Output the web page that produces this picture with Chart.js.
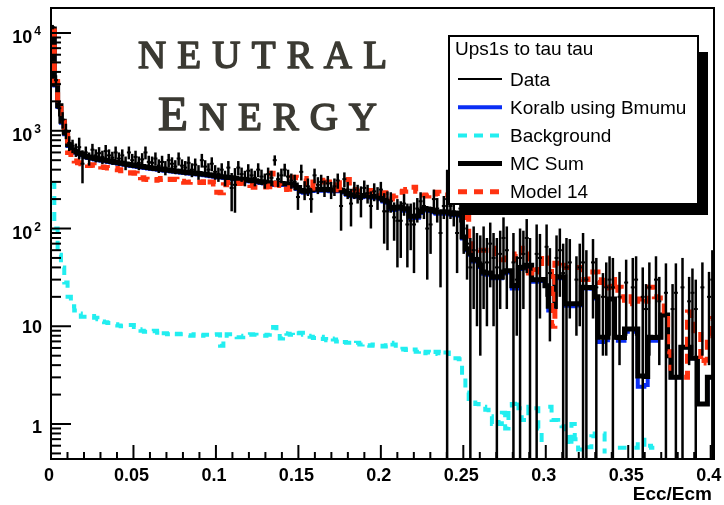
<!DOCTYPE html>
<html>
<head>
<meta charset="utf-8">
<script src="https://cdn.jsdelivr.net/npm/chart.js@4.4.1/dist/chart.umd.min.js"></script>
<style>
  html, body { margin: 0; padding: 0; background: #fff; }
  canvas { display: block; }
</style>
</head>
<body>
<canvas id="chart" width="724" height="505"></canvas>
<script>
// Ecc/Ecm histograms, 200 bins
const X_MAX = 0.402;
const N_BINS = 200;
const BIN_W = X_MAX / N_BINS;
const Y_MIN = 0.4385;
const Y_MAX = 18030;

const xTickLabels = ['0', '0.05', '0.1', '0.15', '0.2', '0.25', '0.3', '0.35', '0.4'];
const yDecades = [0, 1, 2, 3, 4];
const legendTitle = 'Ups1s to tau tau';
const legendLabels = ['Data', 'Koralb using Bmumu', 'Background', 'MC Sum', 'Model 14'];

const koralb = [
  10700, 2900, 1750, 1210, 920, 700, 624, 595, 576, 562,
  537, 527, 517, 508, 500, 494, 487, 479, 473, 467,
  460, 454, 448, 442, 437, 432, 427, 421, 416, 411,
  407, 403, 399, 395, 391, 388, 384, 380, 376, 372,
  369, 366, 363, 360, 357, 354, 350, 346, 342, 338,
  334, 333, 328, 325, 322, 319, 314, 310, 308, 305,
  302, 299, 296, 292, 288, 285, 281, 278, 284, 282,
  279, 277, 274, 270, 254, 236, 232, 234, 242, 244,
  244, 243, 243, 243, 241, 241, 243, 241, 233, 221,
  215, 213, 211, 209, 211, 214, 208, 207, 207, 199,
  189, 184, 158, 155, 159, 160, 152, 154, 128, 128,
  129, 144, 153, 153, 151, 147, 142, 142, 143, 142,
  139, 137, 139, 135, 79, 60, 54, 46, 46, 40.5,
  34.5, 33.6, 33.8, 31, 31, 31, 34.7, 36, 35.5, 24.4,
  24.3, 38.5, 39, 41, 40.5, 28.5, 28.5, 29, 29.4, 26,
  14.5, 15, 31, 31, 31, 16.2, 16.4, 16, 16.3, 16.4,
  24.4, 24.4, 24.4, 24.2, 19.2, 6.9, 6.9, 7.2, 19, 19,
  7.7, 7.1, 7.1, 8.8, 9.4, 9.4, 8.8, 2.4, 2.4, 2.5,
  7.1, 7.1, 7.1, 7.7, 13, 13, 5, 3, 3, 3,
  6.1, 6.1, 6.1, 4.7, 4.7, 1.6, 1.6, 1.6, 3.0, 3.0,
];

const background = [
  290, 100, 54, 40, 28, 20, 16, 14.5, 13.5, 12.5,
  12.5, 12.8, 12.7, 12.2, 11.8, 11.2, 11, 10.8, 10.5, 10.5,
  10.2, 10, 10, 10.3, 10.3, 9.8, 9.3, 9, 8.8, 8.7,
  8.9, 9.0, 8.6, 9.0, 8.5, 8.3, 8.1, 8.3, 8.4, 8.3,
  8.2, 8.1, 8.0, 8.3, 8.3, 8.0, 8.2, 8.2, 8.3, 8.2,
  8.3, 6.3, 8.0, 8.3, 8.3, 7.9, 7.7, 7.7, 8.0, 8.2,
  8.3, 8.2, 8.0, 8.0, 8.0, 8.2, 8.6, 9.8, 8.6, 7.5,
  8.5, 8.4, 8.2, 8.0, 8.5, 8.6, 8.2, 8.0, 7.8, 7.6,
  7.6, 7.8, 7.4, 7.2, 7.5, 7.3, 7.0, 7.2, 6.9, 6.8,
  6.8, 6.6, 6.8, 6.5, 6.6, 6.4, 6.3, 6.5, 6.4, 6.3,
  6.2, 6.4, 6.8, 6.5, 6.0, 5.8, 5.9, 5.7, 5.6, 5.8,
  5.5, 5.6, 5.3, 5.5, 5.4, 5.2, 5.5, 5.3, 5.1, 5.4,
  5.2, 5.0, 4.7, 4.6, 3.0, 2.1, 1.8, 1.8, 1.6, 1.5,
  1.5, 1.4, 1.2, 1.0, 1.05, 1.0, 1.3, 0.9, 1.55, 1.6,
  1.75, 1.45, 1.1, 1.1, 1.5, 1.45, 1.45, 0.9, 0.6, 0,
  1.5, 1.1, 1.1, 1.05, 0.95, 0.8, 0.6, 1.0, 0.7, 0.55,
  0.6, 0.58, 0.58, 0.75, 0.8, 0.8, 0.8, 0.5, 0, 0,
  0, 0.57, 0.57, 0.6, 0, 0, 0.57, 0.69, 0.69, 0.57,
  0.6, 0.57, 0.57, 0, 0, 0, 0, 0, 0, 0,
  0, 0, 0, 0, 0, 0, 0, 0, 0, 0,
];

const model14 = [
  10500, 3200, 1900, 1350, 900, 600, 520, 490, 470, 460,
  455, 440, 450, 445, 435, 425, 420, 415, 415, 410,
  400, 390, 375, 370, 372, 368, 360, 330, 320, 318,
  315, 312, 318, 325, 330, 320, 318, 320, 312, 305,
  298, 298, 300, 298, 300, 296, 320, 318, 300, 285,
  235, 232, 280, 295, 300, 290, 288, 290, 292, 290,
  275, 265, 265, 262, 266, 268, 368, 290, 280, 275,
  250, 252, 335, 335, 330, 330, 325, 285, 260, 300,
  312, 312, 300, 300, 298, 280, 230, 318, 318, 318,
  260, 250, 242, 235, 235, 235, 245, 240, 238, 230,
  232, 220, 200, 215, 230, 235, 240, 250, 265, 265,
  240, 230, 220, 215, 230, 225, 235, 228, 220, 220,
  222, 250, 245, 235, 235, 130, 70, 60, 62, 60,
  60, 60, 63, 63, 48, 48, 48, 50, 48, 48,
  55, 53, 63, 63, 35, 40, 38, 36, 53, 50,
  44, 10, 44, 40, 42, 40, 40, 40, 40, 40,
  30, 30, 36, 36, 36, 28, 33, 23, 25, 30,
  22, 25, 20, 18.5, 17, 20, 18, 19, 17, 18,
  25, 25, 20, 19.5, 19.5, 12, 5.5, 3.5, 0, 0,
  0, 3, 14, 12, 9, 9, 4.2, 4.5, 8, 12,
];

const dataVals = [
  11500, 3300, 1700, 1300, 1000, 750, 700, 640, 680, 460,
  600, 520, 640, 560, 590, 540, 620, 560, 530, 600,
  520, 560, 470, 600, 500, 540, 470, 510, 600, 480,
  470, 520, 440, 480, 420, 500, 460, 430, 520, 440,
  420, 470, 400, 450, 380, 500, 430, 400, 460, 380,
  360, 400, 330, 420, 260, 280, 420, 360, 330, 390,
  350, 330, 400, 340, 310, 360, 330, 500, 320, 350,
  400, 340, 310, 300, 210, 380, 250, 270, 200, 350,
  280, 300, 260, 290, 250, 270, 310, 170, 320, 250,
  180, 250, 230, 200, 260, 230, 170, 240, 210, 250,
  150, 150, 190, 130, 120, 120, 180, 110, 120, 110,
  160, 190, 170, 100, 110, 200, 160, 90, 170, 200,
  170, 150, 90, 160, 100, 70, 40, 60, 50, 45,
  60, 45, 70, 50, 40, 55, 80, 60, 0, 45,
  30, 50, 55, 80, 40, 0, 55, 50, 0, 65,
  35, 0, 50, 60, 35, 40, 45, 0, 30, 40,
  45, 30, 0, 45, 25, 0, 20, 25, 30, 25,
  0, 20, 0, 28, 0, 25, 30, 0, 20, 15,
  25, 0, 30, 18, 0, 22, 0, 15, 22, 0,
  25, 0, 18, 22, 15, 0, 25, 0, 20, 30,
];

const dataErrs = [
  600, 400, 300, 250, 180, 130, 110, 100, 170, 170,
  90, 80, 95, 85, 90, 85, 95, 85, 80, 90,
  80, 85, 75, 90, 80, 85, 75, 80, 90, 75,
  75, 80, 70, 75, 70, 80, 75, 70, 80, 70,
  70, 75, 65, 70, 65, 80, 70, 65, 75, 65,
  60, 65, 60, 70, 110, 135, 70, 60, 60, 65,
  60, 60, 65, 60, 55, 60, 60, 60, 55, 60,
  60, 60, 55, 55, 55, 70, 55, 55, 55, 60,
  55, 55, 50, 55, 50, 55, 55, 75, 55, 50,
  75, 50, 50, 70, 50, 50, 70, 50, 55, 50,
  80, 90, 45, 55, 80, 70, 45, 70, 60, 75,
  45, 45, 45, 70, 55, 50, 45, 65, 45, 200,
  45, 45, 55, 45, 45, 40, 40, 45, 40, 40,
  45, 35, 45, 40, 40, 40, 50, 45, 0, 45,
  22, 50, 40, 45, 40, 0, 55, 38, 0, 45,
  28, 0, 35, 40, 35, 40, 33, 0, 22, 30,
  45, 30, 0, 33, 25, 0, 15, 20, 22, 25,
  0, 16, 0, 20, 0, 25, 22, 0, 20, 12,
  20, 0, 22, 14, 0, 22, 0, 12, 22, 0,
  25, 0, 14, 17, 15, 0, 20, 0, 16, 30,
];

const mcSum = koralb.map((v, i) => v + background[i]);

const COLORS = {
  blue: '#0a2ef5',
  cyan: '#22eef0',
  red:  '#ff3311',
  title: '#3b3a33',
};

const AXIS_FONT = 'bold 18px "Liberation Sans", Arial, sans-serif';
const SUP_FONT  = 'bold 12px "Liberation Sans", Arial, sans-serif';
const LEG_FONT  = '19px "Liberation Sans", Arial, sans-serif';

// bin contents -> step points on the bin low edges, closed at X_MAX
function histPoints(vals) {
  const pts = vals.map((v, i) => ({ x: i * BIN_W, y: v }));
  pts.push({ x: X_MAX, y: vals[vals.length - 1] });
  return pts;
}

function histDataset(label, vals, color, width, dash) {
  return {
    label,
    data: histPoints(vals),
    borderColor: color,
    borderWidth: width,
    borderDash: dash || [],
    borderJoinStyle: 'miter',
    borderCapStyle: 'butt',
    stepped: true,
    fill: false,
    pointRadius: 0,
  };
}

function drawSpaced(ctx, glyphs, x0, x1, baseline) {
  const widths = glyphs.map(([ch, font]) => { ctx.font = font; return ctx.measureText(ch).width; });
  const gap = (x1 - x0 - widths.reduce((a, b) => a + b, 0)) / (glyphs.length - 1);
  let x = x0;
  glyphs.forEach(([ch, font], i) => {
    ctx.font = font;
    ctx.fillText(ch, x, baseline);
    ctx.strokeText(ch, x, baseline);
    x += widths[i] + gap;
  });
}

const rootStyle = {
  id: 'rootStyle',
  beforeDraw(chart) {
    const ctx = chart.ctx;
    ctx.save();
    ctx.fillStyle = '#fff';
    ctx.fillRect(0, 0, chart.width, chart.height);
    ctx.restore();
  },
  afterDatasetsDraw(chart) {
    const { ctx, chartArea: a, scales: { x, y } } = chart;
    ctx.save();
    ctx.beginPath();
    ctx.rect(a.left, a.top, a.right - a.left, a.bottom - a.top);
    ctx.clip();
    ctx.strokeStyle = '#000';
    ctx.fillStyle = '#000';
    ctx.lineWidth = 2.5;
    dataVals.forEach((v, i) => {
      if (!v) return;
      const px = x.getPixelForValue((i + 0.5) * BIN_W);
      const lo = v - dataErrs[i];
      const yTop = y.getPixelForValue(v + dataErrs[i]);
      const yBot = lo > Y_MIN ? y.getPixelForValue(lo) : a.bottom + 2;
      ctx.beginPath();
      ctx.moveTo(px, yTop);
      ctx.lineTo(px, yBot);
      ctx.stroke();
      ctx.fillRect(px - 2, y.getPixelForValue(v) - 1, 4, 2);
    });
    ctx.restore();
  },
  afterDraw(chart) {
    const { ctx, chartArea: a, scales: { x, y } } = chart;
    ctx.save();

    // frame
    ctx.strokeStyle = '#000';
    ctx.lineWidth = 2;
    ctx.strokeRect(a.left, a.top, a.right - a.left, a.bottom - a.top);

    // x ticks: minor every 0.01, major every 0.05
    for (let k = 0; k <= 40; k++) {
      const px = x.getPixelForValue(k * 0.01);
      const len = k % 5 === 0 ? 14 : 7;
      ctx.beginPath();
      ctx.moveTo(px, a.bottom);
      ctx.lineTo(px, a.bottom - len);
      ctx.stroke();
    }
    ctx.fillStyle = '#000';
    ctx.font = AXIS_FONT;
    ctx.textAlign = 'center';
    ctx.textBaseline = 'alphabetic';
    xTickLabels.forEach((t, k) => {
      ctx.fillText(t, x.getPixelForValue(k * 0.05) - 2, 481);
    });

    // y ticks: decades long, 2..9 short
    for (let n = -1; n <= 4; n++) {
      for (let m = 1; m <= 9; m++) {
        const v = m * Math.pow(10, n);
        if (v < Y_MIN || v > Y_MAX) continue;
        const py = y.getPixelForValue(v);
        ctx.beginPath();
        ctx.moveTo(a.left, py);
        ctx.lineTo(a.left + (m === 1 ? 20 : 10), py);
        ctx.stroke();
      }
    }
    ctx.textAlign = 'right';
    yDecades.forEach(n => {
      const yt = y.getPixelForValue(Math.pow(10, n));
      ctx.font = AXIS_FONT;
      if (n === 0) {
        ctx.fillText('1', 42, yt + 9);
      } else if (n === 1) {
        ctx.fillText('10', 42, yt + 7);
      } else {
        ctx.font = SUP_FONT;
        ctx.fillText(String(n), 41, yt + 2);
        const w = ctx.measureText(String(n)).width;
        ctx.font = AXIS_FONT;
        ctx.fillText('10', 41 - w - 2, yt + 10);
      }
    });

    // axis title
    ctx.font = 'bold 19px "Liberation Sans", Arial, sans-serif';
    ctx.fillText('Ecc/Ecm', 712, 500);

    // legend box with shadow
    ctx.fillStyle = '#000';
    ctx.fillRect(698, 52, 10, 163);
    ctx.fillRect(460, 204, 248, 11);
    ctx.fillStyle = '#fff';
    ctx.fillRect(449, 36, 249, 168);
    ctx.strokeStyle = '#000';
    ctx.lineWidth = 2;
    ctx.strokeRect(449, 36, 249, 168);

    ctx.fillStyle = '#000';
    ctx.font = LEG_FONT;
    ctx.textAlign = 'left';
    ctx.fillText(legendTitle, 455, 55);

    const samples = [
      { color: '#000', width: 2, dash: [] },
      { color: COLORS.blue, width: 4, dash: [] },
      { color: COLORS.cyan, width: 4, dash: [9, 7] },
      { color: '#000', width: 5, dash: [] },
      { color: COLORS.red, width: 5, dash: [9, 7] },
    ];
    legendLabels.forEach((label, i) => {
      const yc = 79 + i * 28.2;
      const s = samples[i];
      ctx.strokeStyle = s.color;
      ctx.lineWidth = s.width;
      ctx.setLineDash(s.dash);
      ctx.lineCap = 'butt';
      ctx.beginPath();
      ctx.moveTo(458, yc);
      ctx.lineTo(502, yc);
      ctx.stroke();
      ctx.setLineDash([]);
      ctx.fillStyle = '#000';
      ctx.fillText(label, 510, yc + 6.5);
    });

    // big caption, small caps
    ctx.fillStyle = COLORS.title;
    ctx.strokeStyle = COLORS.title;
    ctx.lineWidth = 1.6;
    ctx.lineJoin = 'round';
    const serif = px => px + 'px "Liberation Serif", "DejaVu Serif", serif';
    drawSpaced(ctx, [...'NEUTRAL'].map(c => [c, serif(39)]), 138, 387, 68);
    drawSpaced(ctx, [['E', serif(49)], ...[...'NERGY'].map(c => [c, serif(39)])], 158, 377, 130);

    ctx.restore();
  },
};

new Chart(document.getElementById('chart'), {
  type: 'line',
  data: {
    datasets: [
      histDataset('Model 14', model14, COLORS.red, 5, [10, 7]),
      histDataset('MC Sum', mcSum, '#000', 5),
      histDataset('Background', background, COLORS.cyan, 4, [9, 7]),
      histDataset('Koralb using Bmumu', koralb, COLORS.blue, 4),
    ],
  },
  options: {
    responsive: false,
    animation: false,
    layout: { padding: { left: 51, right: 10, top: 8, bottom: 46 } },
    plugins: {
      legend: { display: false },
      tooltip: { enabled: false },
    },
    scales: {
      x: { type: 'linear', min: 0, max: X_MAX, display: false },
      y: { type: 'logarithmic', min: Y_MIN, max: Y_MAX, display: false },
    },
  },
  plugins: [rootStyle],
});
</script>
</body>
</html>
